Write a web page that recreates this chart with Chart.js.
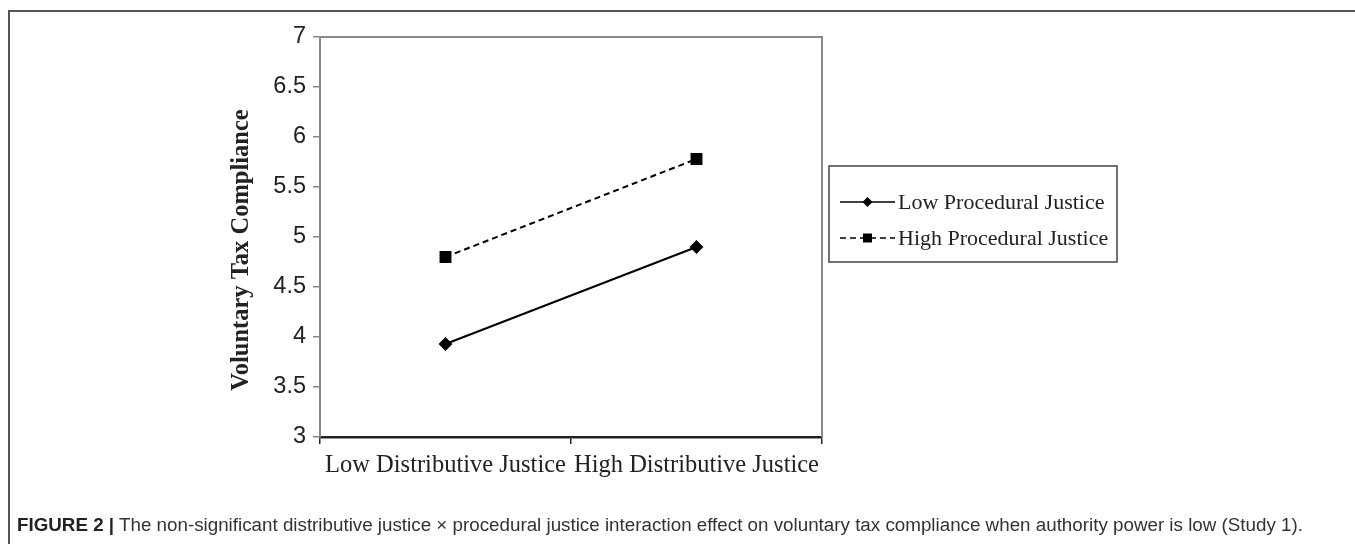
<!DOCTYPE html>
<html>
<head>
<meta charset="utf-8">
<script src="https://cdn.jsdelivr.net/npm/chart.js@4.4.1/dist/chart.umd.min.js"></script>
<style>
  body { margin: 0; background: #fff; }
  #wrap { position: relative; width: 1355px; height: 544px; overflow: hidden; }
  #frame { position: absolute; left: 8px; top: 10px; width: 1400px; height: 600px;
    border-left: 2px solid #555; border-top: 2px solid #555; }
  #chart { position: absolute; left: 0; top: 0; }
  #caption { position: absolute; left: 17px; top: 514px; font: 18.8px "Liberation Sans", Arial, sans-serif;
    color: #333; white-space: nowrap; }
  #caption b { color: #222; }
</style>
</head>
<body>
<div id="wrap">
  <div id="frame"></div>
  <canvas id="chart" width="1355" height="544"></canvas>
  <div id="caption"><b>FIGURE 2 |</b> The non-significant distributive justice × procedural justice interaction effect on voluntary tax compliance when authority power is low (Study 1).</div>
</div>
<script>
  const categories = ['Low Distributive Justice', 'High Distributive Justice'];
  const seriesNames = ['Low Procedural Justice', 'High Procedural Justice'];
  const lowProcedural = [3.93, 4.90];
  const highProcedural = [4.80, 5.78];
  const yMin = 3, yMax = 7, yStep = 0.5;
  const yTitle = 'Voluntary Tax Compliance';

  // gray box on top and right of plot area
  const plotBox = {
    id: 'plotBox',
    beforeDatasetsDraw(chart) {
      const { ctx, chartArea: a } = chart;
      ctx.save();
      ctx.strokeStyle = '#8a8a8a';
      ctx.lineWidth = 2;
      ctx.beginPath();
      ctx.moveTo(a.left, a.top);
      ctx.lineTo(a.right, a.top);
      ctx.lineTo(a.right, a.bottom);
      ctx.stroke();
      ctx.restore();
    }
  };

  // y title sits a bit below the middle of the axis in the original
  const sideTitle = {
    id: 'sideTitle',
    afterDraw(chart, args, opts) {
      const { ctx, chartArea: a } = chart;
      ctx.save();
      ctx.translate(opts.x, (a.top + a.bottom) / 2 + opts.shift);
      ctx.rotate(-Math.PI / 2);
      ctx.font = 'bold 24.5px "Liberation Serif", "Times New Roman", serif';
      ctx.fillStyle = '#222';
      ctx.textAlign = 'center';
      ctx.textBaseline = 'middle';
      ctx.fillText(opts.text, 0, 0);
      ctx.restore();
    }
  };

  // legend box with line + marker samples
  const boxLegend = {
    id: 'boxLegend',
    afterDraw(chart, args, opts) {
      const ctx = chart.ctx;
      ctx.save();
      ctx.strokeStyle = '#444';
      ctx.lineWidth = 1.5;
      ctx.strokeRect(opts.x, opts.y, opts.w, opts.h);
      chart.data.datasets.forEach((ds, i) => {
        const y = opts.y + opts.rowTop + i * opts.rowGap;
        const x0 = opts.x + 11, x1 = x0 + 55, xm = (x0 + x1) / 2;
        ctx.strokeStyle = '#000';
        ctx.lineWidth = 1.5;
        ctx.setLineDash(ds.borderDash || []);
        ctx.beginPath();
        ctx.moveTo(x0, y);
        ctx.lineTo(x1, y);
        ctx.stroke();
        ctx.setLineDash([]);
        ctx.fillStyle = '#000';
        ctx.beginPath();
        if (ds.pointStyle === 'rectRot') {
          ctx.moveTo(xm, y - 5); ctx.lineTo(xm + 5, y); ctx.lineTo(xm, y + 5); ctx.lineTo(xm - 5, y);
        } else {
          ctx.rect(xm - 4.5, y - 4.5, 9, 9);
        }
        ctx.fill();
        ctx.font = '22px "Liberation Serif", "Times New Roman", serif';
        ctx.textBaseline = 'middle';
        ctx.fillStyle = '#222';
        ctx.fillText(ds.label, x1 + 3, y + 1);
      });
      ctx.restore();
    }
  };

  new Chart(document.getElementById('chart'), {
    type: 'line',
    data: {
      labels: categories,
      datasets: [
        {
          label: seriesNames[0],
          data: lowProcedural,
          borderColor: '#000',
          backgroundColor: '#000',
          borderWidth: 2,
          pointStyle: 'rectRot',
          pointRadius: 5.5,
          fill: false
        },
        {
          label: seriesNames[1],
          data: highProcedural,
          borderColor: '#000',
          backgroundColor: '#000',
          borderWidth: 2,
          borderDash: [6, 4],
          pointStyle: 'rect',
          pointRadius: 7,
          fill: false
        }
      ]
    },
    options: {
      responsive: false,
      animation: false,
      layout: { padding: { left: 218, top: 37, right: 533, bottom: 0 } },
      plugins: {
        legend: { display: false },
        tooltip: { enabled: false },
        boxLegend: { x: 829, y: 166, w: 288, h: 96, rowTop: 36, rowGap: 36 },
        sideTitle: { text: yTitle, x: 242, shift: 13 }
      },
      scales: {
        x: {
          type: 'category',
          offset: true,
          afterFit(s) { s.height = 107; },
          grid: { offset: true, drawOnChartArea: false, drawTicks: true, tickLength: 7, color: '#222', lineWidth: 1.5 },
          border: { color: '#222', width: 2.5 },
          ticks: {
            color: '#222',
            padding: 7,
            maxRotation: 0,
            font: { family: '"Liberation Serif", "Times New Roman", serif', size: 24.5 }
          }
        },
        y: {
          min: yMin,
          max: yMax,
          afterFit(s) { s.width = 102; },
          grid: { drawOnChartArea: false, drawTicks: true, tickLength: 7, color: '#888', lineWidth: 1.5 },
          border: { color: '#888', width: 2 },
          ticks: {
            stepSize: yStep,
            color: '#222',
            padding: 7,
            font: { family: '"Liberation Sans", Arial, sans-serif', size: 23.5 },
            callback: v => String(Number(v))
          }
        }
      }
    },
    plugins: [plotBox, sideTitle, boxLegend]
  });
</script>
</body>
</html>
